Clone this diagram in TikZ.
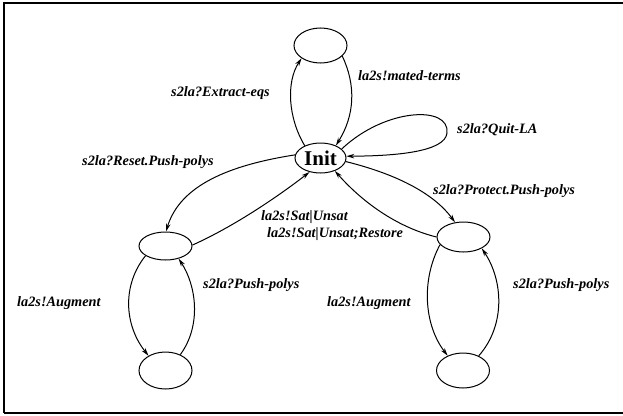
\documentclass[tikz,border=0pt]{standalone}
\usepackage{fontspec}
\setmainfont{Liberation Serif}
\usetikzlibrary{shapes.geometric,arrows.meta}
\begin{document}
\begin{tikzpicture}[x=1pt,y=-1pt,
  state/.style={draw,ellipse,line width=1pt,inner sep=0pt,minimum width=53pt,minimum height=#1},
  state/.default=34pt,
  trans/.style={draw,line width=1pt,-{Stealth[length=8pt,width=4.5pt]}},
  lab/.style={anchor=west,inner sep=0pt,font=\fontsize{14.3}{16}\selectfont\bfseries\itshape}]
\useasboundingbox (0,0) rectangle (623,415);
% frame
\draw[line width=2pt] (3.5,412.5) -- (3.5,3) -- (623,3);
\draw[line width=2pt] (3.5,412.5) -- (623,412.5);

% states
\node[state=30pt,minimum width=51pt,font=\fontsize{21}{24}\selectfont\bfseries] (init) at (320.5,158) {Init};
\node[state=35pt] (top) at (320.5,45.5) {};
\node[state=28pt] (lm) at (165.5,246) {};
\node[state=37pt] (lb) at (165.5,370.5) {};
\node[state=30pt] (rm) at (463.5,237) {};
\node[state=35pt] (rb) at (463,370.5) {};

% transitions
\path[trans] (init.142) .. controls (288,118) and (286,82) .. (top.214);
\path[trans] (top.334) .. controls (356,85) and (355,115) .. (init.39);
\path[trans] (init.23) .. controls (385,108) and (450,105) .. (447,133)
                       .. controls (445,152) and (395,156) .. (init.4);
\path[trans] (init.173) .. controls (230,165) and (180,185) .. (lm.88);
\path[trans] (lm.2) .. controls (235,226) and (280,195) .. (init.232);
\path[trans] (init.-8) .. controls (400,175) and (435,195) .. (rm.120);
\path[trans] (rm.180) .. controls (400,228) and (365,205) .. (init.318);
\path[trans] (lm.206) .. controls (122,285) and (124,325) .. (lb.139);
\path[trans] (lb.47) .. controls (202,325) and (196,285) .. (lm.316);
\path[trans] (rm.198) .. controls (421,280) and (424,325) .. (rb.136);
\path[trans] (rb.43) .. controls (506,325) and (503,280) .. (rm.328);

% labels
\node[lab] (l1) at (171,93) {s2la?Extract-eqs};
\node[lab] (l2) at (358,76) {la2s!mated-terms};
\node[lab] (l3) at (457,130) {s2la?Quit-LA};
\node[lab] (l4) at (82,162) {s2la?Reset.Push-polys};
\node[lab] (l5) at (261,217) {la2s!Sat|Unsat};
\node[lab] (l6) at (267,234) {la2s!Sat|Unsat;Restore};
\node[lab] (l7) at (433,191) {s2la?Protect.Push-polys};
\node[lab] (l8) at (17,303) {la2s!Augment};
\node[lab] (l9) at (203,285) {s2la?Push-polys};
\node[lab] (l10) at (327,303) {la2s!Augment};
\node[lab] (l11) at (513,285) {s2la?Push-polys};
\end{tikzpicture}
\end{document}
